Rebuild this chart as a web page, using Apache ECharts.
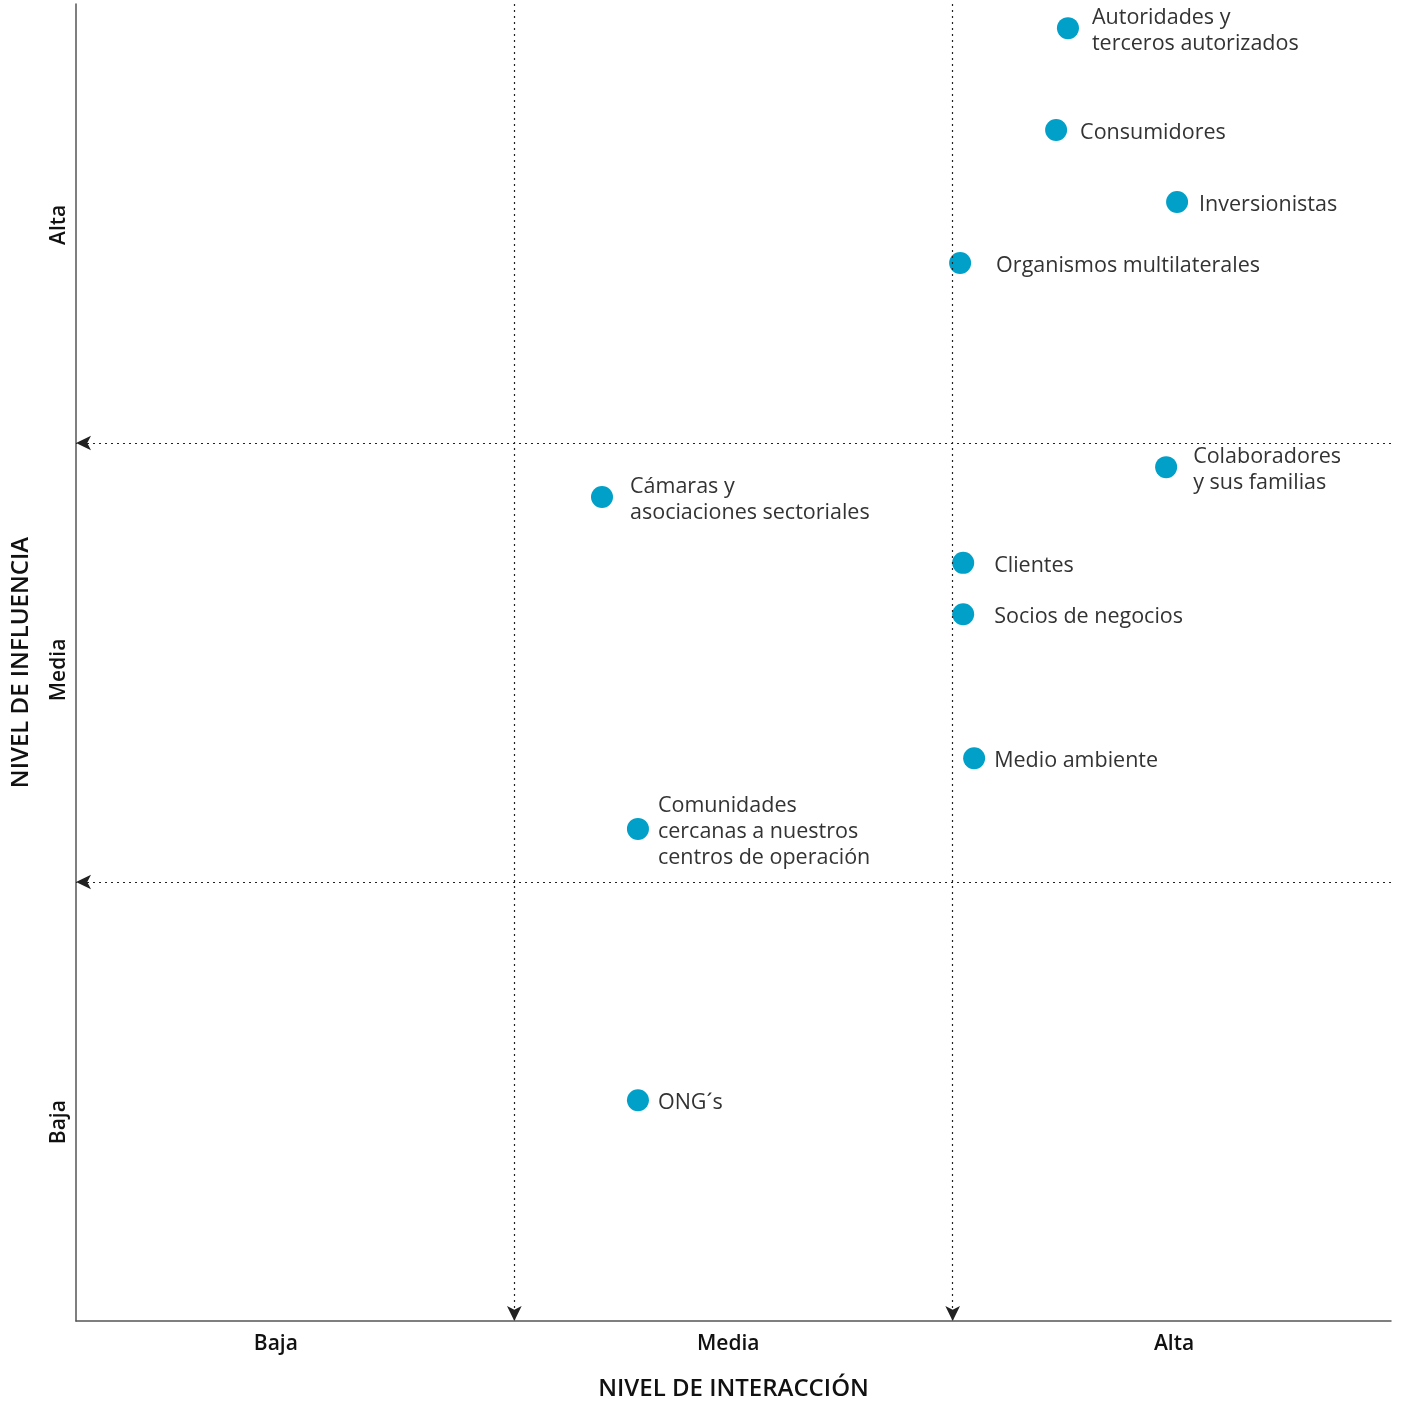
<!DOCTYPE html>
<html><head><meta charset="utf-8">
<script src="https://cdn.jsdelivr.net/npm/echarts@6/dist/echarts.min.js"></script>
<style>html,body{margin:0;padding:0;background:#fff}#c{width:1405px;height:1404px}</style>
</head><body><div id="c"></div>
<script>
const names = ["Autoridades y\nterceros autorizados","Consumidores","Inversionistas","Organismos multilaterales","Colaboradores\ny sus familias","Cámaras y\nasociaciones sectoriales","Clientes","Socios de negocios","Medio ambiente","Comunidades\ncercanas a nuestros\ncentros de operación","ONG´s"];
const interaccion = [2.263,2.236,2.512,2.017,2.487,1.200,2.024,2.024,2.049,1.282,1.282];
const influencia = [2.945,2.713,2.549,2.410,1.945,1.877,1.727,1.610,1.282,1.121,0.503];
const levelLabels = ["Baja","Media","Alta"];
const xLevelAt = [0.456,1.488,2.505];
const yLevelAt = [0.453,1.483,2.497];
const dividers = [1,2];

const labelGaps = [13,13,11,25,16,17,20,20,9,9,9];
const data = names.map((n,i)=>({name:n,value:[interaccion[i],influencia[i]],label:{distance:labelGaps[i]}}));
const fmt = at => v => { const k = at.findIndex(a=>Math.abs(a-v)<1e-6); return k>=0 ? levelLabels[k] : ''; };
const lineStyle = {color:'#222',type:[2,4],width:1.2};
const nameStyle = {fontFamily:'Open Sans',fontSize:24,color:'#111',fontWeight:600};
const tickStyle = {fontFamily:'Open Sans',fontWeight:600,fontSize:21,color:'#111'};
const chart = echarts.init(document.getElementById('c'));
chart.setOption({
  animation:false,
  grid:{left:76,right:14,top:4,bottom:83,containLabel:false,outerBoundsMode:'none'},
  xAxis:{type:'value',min:0,max:3,interval:1,
    name:'NIVEL DE INTERACCIÓN',nameLocation:'middle',nameGap:56,
    nameTextStyle:nameStyle,
    axisLine:{lineStyle:{color:'#555',width:1.5}},axisTick:{show:false},splitLine:{show:false},
    axisLabel:Object.assign({customValues:xLevelAt,formatter:fmt(xLevelAt),margin:13},tickStyle)},
  yAxis:{type:'value',min:0,max:3,interval:1,
    name:'NIVEL DE INFLUENCIA',nameLocation:'middle',nameGap:43,
    nameTextStyle:nameStyle,
    axisLine:{show:true,lineStyle:{color:'#555',width:1.5}},axisTick:{show:false},splitLine:{show:false},
    axisLabel:Object.assign({customValues:yLevelAt,formatter:fmt(yLevelAt),rotate:90,margin:6},tickStyle)},
  series:[{
    type:'scatter',symbolSize:22,itemStyle:{color:'#00A0C8',opacity:1},
    label:{show:true,position:'right',formatter:'{b}',fontFamily:'Open Sans',fontSize:21.5,color:'#333',lineHeight:26,offset:[0,3]},
    data:data,
    markLine:{silent:true,symbol:['none','arrow'],symbolSize:[11,15],label:{show:false},
      lineStyle:lineStyle,
      data:[
        ...dividers.map(d=>[{coord:[d,3]},{coord:[d,0]}]),
        ...dividers.map(d=>[{coord:[3,d]},{coord:[0,d]}])
      ]}
  }]
});
</script></body></html>
